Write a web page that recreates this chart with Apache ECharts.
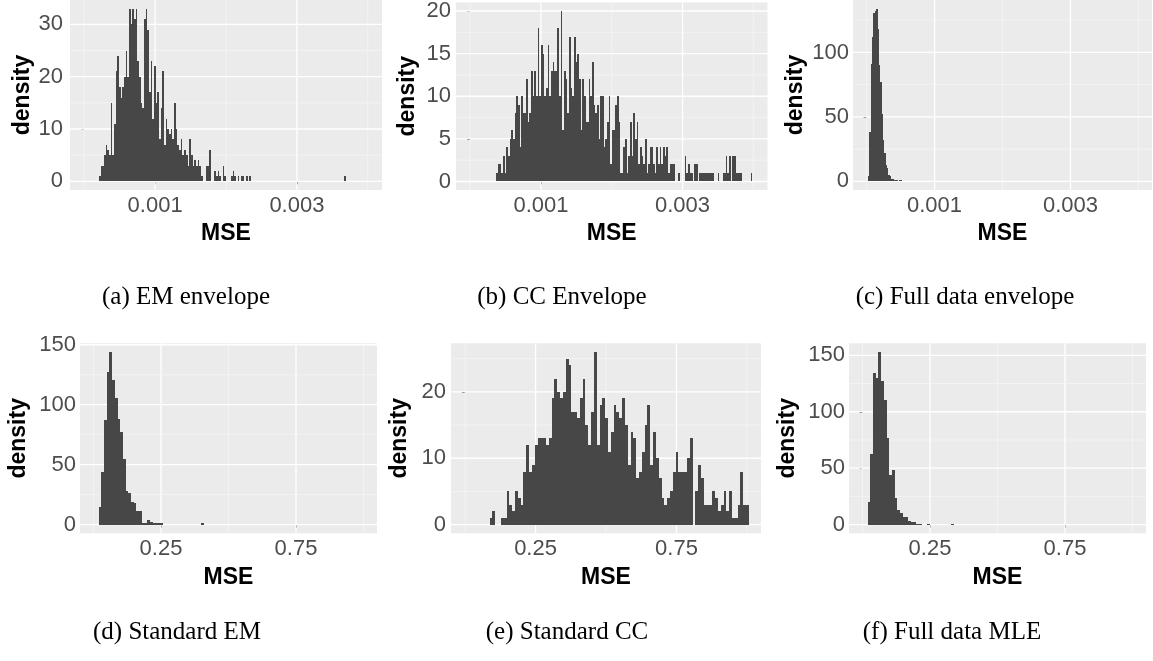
<!DOCTYPE html>
<html><head><meta charset="utf-8">
<script src="https://cdn.jsdelivr.net/npm/echarts@6/dist/echarts.min.js"></script>
<style>html,body{margin:0;padding:0;background:#fff}#c{width:1153px;height:661px}</style>
</head><body><div id="c"></div>
<script>
// ---------------- data ----------------
const xTicksTop = [0.001, 0.003];
const xMinorTop = [0, 0.002, 0.004];
const xTicksBottom = [0.25, 0.75];
const xMinorBottom = [0, 0.5, 1.0];

const yTicksA = [0, 10, 20, 30];      const yMinorA = [5, 15, 25];
const yTicksB = [0, 5, 10, 15, 20];   const yMinorB = [2.5, 7.5, 12.5, 17.5];
const yTicksC = [0, 50, 100];         const yMinorC = [25, 75, 125];
const yTicksD = [0, 50, 100, 150];    const yMinorD = [25, 75, 125];
const yTicksE = [0, 10, 20];          const yMinorE = [5, 15, 25];
const yTicksF = [0, 50, 100, 150];    const yMinorF = [25, 75, 125];

// histogram bins: first bin start, bin width, heights
const binStartA = 0.000209, binWidthA = 0.00002355;
const countsA = [
  1,3,3,5,7,6,5,15,5,11,
  21,24,18,16,18,20,25,20,33,30,
  33,31,33,23,20,15,14,31,33,29,
  17,23,12,22,15,17,8,14,21,7,
  12,10,9,10,8,15,10,7,6,
  8,5,6,5,3,8,5,3,4,3,
  4,3,1,0,0,3,3,6,0,0,
  2,1,2,1,0,3,1,0,0,0,
  1,2,1,0,1,0,1,1,0,1,
  0,1,0,0,0,0,0,0,0,0,
  0,0,0,0,0,0,0,0,0,0,
  0,0,0,0,0,0,0,0,0,0,
  0,0,0,0,0,0,0,0,0,0,
  0,0,0,0,0,0,0,0,0,0,
  0,0,0,0,0,0,0,0,1
];

const binStartB = 0.000371, binWidthB = 0.00002331;
const countsB = [
  1,2,2,1,3,1,4,3,5,6,
  5,8,10,9,4,10,8,8,12,7,
  8,13,10,13,10,18,10,16,15,10,
  11,16,10,13,14,13,13,18,10,20,
  6,13,12,8,17,11,10,17,14,
  15,12,6,12,10,7,7,12,10,14,
  9,8,9,5,10,10,4,5,7,10,
  2,6,6,9,10,7,1,1,4,5,
  1,3,7,3,8,5,7,2,4,3,
  2,5,1,2,4,4,2,1,4,2,4,
  2,4,3,4,1,2,2,2,0,0,
  1,0,0,0,3,1,2,1,1,0,
  2,2,0,1,1,1,1,1,1,1,
  1,1,0,0,1,0,0,1,1,3,
  1,3,0,3,3,1,1,1,1,0,
  0,0,0,0,1
];

const binStartC = 0.0000222, binWidthC = 0.0000198;
const countsC = [4,38,91,112,131,132,134,118,90,77,52,32,22,13,10,5,4,2,2,1,1,1,0,1,1];

const binStartD = 0.019, binWidthD = 0.01;
const countsD = [
  15,44,87,127,144,121,106,88,77,55,
  28,26,19,18,11,11,1,1,4,2,
  1,1,1,1,0,0,0,0,0,0,
  0,0,0,0,0,0,0,0,1
];

const binStartE = 0.087, binWidthE = 0.01;
const countsE = [
  1,2,0,0,1,1,5,3,2,5,
  4,3,8,12,8,9,12,13,13,13,
  12,13,19,22,20,19,20,25,24,17,
  17,16,19,22,15,12,17,26,12,18,
  19,16,11,14,18,17,16,19,15,9,
  14,13,7,8,11,15,18,9,14,10,
  7,4,3,4,5,8,11,8,8,8,
  10,13,0,5,9,7,3,3,3,5,
  4,2,3,5,2,5,1,1,3,8,
  3,3
];

const binStartF = 0.019, binWidthF = 0.01;
const countsF = [
  20,63,134,130,153,127,110,77,44,48,
  24,13,10,7,7,3,2,2,1,1,
  0,0,1,0,0,0,0,0,0,0,
  0,1
];

const captions = ['(a) EM envelope', '(b) CC Envelope', '(c) Full data envelope',
                  '(d) Standard EM', '(e) Standard CC', '(f) Full data MLE'];
const xTitle = 'MSE';
const yTitle = 'density';

// ---------------- layout / style ----------------
const SANS = '"Liberation Sans", Arial, sans-serif';
const SERIF = '"Liberation Serif", "Times New Roman", serif';
const BAR = '#474747';
const PANEL_BG = '#EBEBEB';

const panels = [
  {grid:{left:70,  top:0,     width:312,   height:190}, x:[-0.0002,0.0042], y:[-1.65,34.65], xt:xTicksTop, xm:xMinorTop, yt:yTicksA, ym:yMinorA, s:binStartA, w:binWidthA, c:countsA, yGap:29, xGap:32, lm:7, cap:[186,297]},
  {grid:{left:456, top:0,     width:311.5, height:190}, x:[-0.0002,0.0042], y:[-1,21],       xt:xTicksTop, xm:xMinorTop, yt:yTicksB, ym:yMinorB, s:binStartB, w:binWidthB, c:countsB, yGap:37, xGap:32, lm:5, cap:[562,297]},
  {grid:{left:853, top:0,     width:299,   height:190}, x:[-0.0002,0.0042], y:[-6.7,140.7],  xt:xTicksTop, xm:xMinorTop, yt:yTicksC, ym:yMinorC, s:binStartC, w:binWidthC, c:countsC, yGap:46, xGap:32, lm:4, cap:[965,297]},
  {grid:{left:80,  top:343.3, width:297,   height:190}, x:[-0.05,1.05],     y:[-7.2,151.2],  xt:xTicksBottom, xm:xMinorBottom, yt:yTicksD, ym:yMinorD, s:binStartD, w:binWidthD, c:countsD, yGap:50, xGap:33, lm:4, cap:[177,632]},
  {grid:{left:451, top:343.3, width:310,   height:190}, x:[-0.05,1.05],     y:[-1.3,27.3],   xt:xTicksBottom, xm:xMinorBottom, yt:yTicksE, ym:yMinorE, s:binStartE, w:binWidthE, c:countsE, yGap:40, xGap:33, lm:5, cap:[567,632]},
  {grid:{left:849, top:343.3, width:297,   height:190}, x:[-0.05,1.05],     y:[-7.65,160.65],xt:xTicksBottom, xm:xMinorBottom, yt:yTicksF, ym:yMinorF, s:binStartF, w:binWidthF, c:countsF, yGap:50, xGap:33, lm:4, cap:[952,632]}
];

const grids = [], xAxes = [], yAxes = [], series = [], graphics = [];

panels.forEach((p, i) => {
  grids.push(Object.assign({show:true, backgroundColor:PANEL_BG, borderWidth:0, containLabel:false}, p.grid));
  xAxes.push({
    gridIndex:i, type:'value', min:p.x[0], max:p.x[1],
    axisLine:{show:false}, splitLine:{show:false},
    axisTick:{show:true, customValues:p.xt, length:3, lineStyle:{color:'#333333', width:1}},
    axisLabel:{customValues:p.xt, fontSize:22, color:'#4D4D4D', fontFamily:SANS, margin:5, formatter:v => String(v)},
    name:xTitle, nameLocation:'middle', nameGap:p.xGap,
    nameTextStyle:{fontSize:23, fontWeight:'bold', color:'#000', fontFamily:SANS}
  });
  yAxes.push({
    gridIndex:i, type:'value', min:p.y[0], max:p.y[1],
    axisLine:{show:false}, splitLine:{show:false},
    axisTick:{show:true, customValues:p.yt, length:3, lineStyle:{color:'#333333', width:1}},
    axisLabel:{customValues:p.yt, fontSize:22, color:'#4D4D4D', fontFamily:SANS, margin:p.lm, formatter:v => String(v)},
    name:yTitle, nameLocation:'middle', nameGap:p.yGap, nameRotate:90,
    nameTextStyle:{fontSize:23, fontWeight:'bold', color:'#000', fontFamily:SANS}
  });
  // gridlines (drawn through the axes' scales)
  const gl = [];
  p.xt.forEach(v => gl.push([v, 0, 0]));
  p.xm.forEach(v => gl.push([v, 0, 1]));
  p.yt.forEach(v => gl.push([p.x[0], v, 2]));
  p.ym.forEach(v => gl.push([p.x[0], v, 3]));
  series.push({
    type:'custom', xAxisIndex:i, yAxisIndex:i, silent:true, z:1, data:gl,
    renderItem:(params, api) => {
      const cs = params.coordSys;
      const kind = api.value(2);
      const pt = api.coord([api.value(0), api.value(1)]);
      const major = (kind === 0 || kind === 2);
      const style = {stroke: major ? '#FFFFFF' : '#F7F7F7', lineWidth: major ? 1.3 : 0.7, fill:null};
      if (kind < 2) return {type:'line', shape:{x1:pt[0], y1:cs.y, x2:pt[0], y2:cs.y + cs.height}, style};
      return {type:'line', shape:{x1:cs.x, y1:pt[1], x2:cs.x + cs.width, y2:pt[1]}, style};
    }
  });
  // histogram bars (snapped to whole pixels so neighbouring bars join without seams)
  const bw = p.w;
  const data = p.c.map((h, k) => [p.s + k * bw, h]).filter(d => d[1] > 0);
  series.push({
    type:'custom', xAxisIndex:i, yAxisIndex:i, silent:true, z:2, data,
    renderItem:(params, api) => {
      const x0 = api.value(0), h = api.value(1);
      const a = api.coord([x0, 0]);
      const b = api.coord([x0 + bw, h]);
      const L = Math.round(a[0]), R = Math.max(Math.round(b[0]), L + 1);
      const T = Math.round(b[1]), B = Math.round(a[1]);
      return {type:'rect', shape:{x:L, y:T, width:R - L, height:Math.max(B - T, 1)},
              style:{fill:BAR, stroke:null, lineWidth:0}};
    }
  });
  graphics.push({
    type:'text', x:p.cap[0], y:p.cap[1],
    style:{text:captions[i], fill:'#000', font:'25px ' + SERIF, textAlign:'center', textVerticalAlign:'middle'}
  });
});

const chart = echarts.init(document.getElementById('c'));
chart.setOption({
  animation:false,
  backgroundColor:'#FFFFFF',
  grid:grids, xAxis:xAxes, yAxis:yAxes, series, graphic:graphics
});
</script>
</body></html>
